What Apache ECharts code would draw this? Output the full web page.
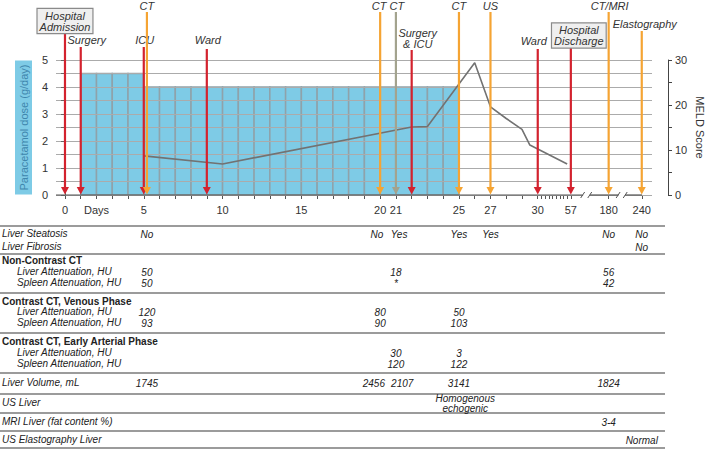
<!DOCTYPE html>
<html><head><meta charset="utf-8">
<script src="https://cdn.jsdelivr.net/npm/echarts@6/dist/echarts.min.js"></script>
<style>html,body{margin:0;padding:0;background:#fff}#c{width:709px;height:450px}</style>
</head><body><div id="c"></div>
<script>
// ---------------- DATA ----------------
// Paracetamol dose (g/day), one bar per day [day, day+1)
const doseDays   = [1,2,3,4,5,6,7,8,9,10,11,12,13,14,15,16,17,18,19,20,21,22,23,24];
const doseValues = [4.5,4.5,4.5,4.5,4,4,4,4,4,4,4,4,4,4,4,4,4,4,4,4,4,4,4,4];
// MELD score
const meldDays   = [5,10,22,23,26,27,28,29,29.5,54];
const meldValues = [8.7,6.9,15.1,15.2,29.4,19.6,17.0,14.6,11.1,6.9];
// Events (arrows)
const eventDays  = [0,1,5,5.2,9,20,21,22,25,27,30,57,180,240];
const eventNames = ['Hospital\nAdmission','Surgery','ICU','CT','Ward','CT','CT','Surgery\n& ICU','CT','US','Ward','Hospital\nDischarge','CT/MRI','Elastography'];
const eventKinds = ['red','red','red','orange','red','orange','gray','red','orange','orange','red','red','orange','orange'];
// x-axis labels
const xTickDays   = [0,2,5,10,15,20,21,25,27,30,57,180,240];
const xTickLabels = ['0','Days','5','10','15','20','21','25','27','30','57','180','240'];
// Table
const rowLabels = ['Liver Steatosis','Liver Fibrosis','Non-Contrast CT','Liver Attenuation, HU','Spleen Attenuation, HU',
  'Contrast CT, Venous Phase','Liver Attenuation, HU','Spleen Attenuation, HU',
  'Contrast CT, Early Arterial Phase','Liver Attenuation, HU','Spleen Attenuation, HU',
  'Liver Volume, mL','US Liver','MRI Liver (fat content %)','US Elastography Liver'];
const steatosis = [[5.2,'No'],[19.8,'No'],[21.2,'Yes'],[25,'Yes'],[27,'Yes'],[180,'No'],[240,'No']];
const fibrosis  = [[240,'No']];
const ncLiver   = [[5.2,'50'],[21,'18'],[180,'56']];
const ncSpleen  = [[5.2,'50'],[21,'*'],[180,'42']];
const venLiver  = [[5.2,'120'],[20,'80'],[25,'50']];
const venSpleen = [[5.2,'93'],[20,'90'],[25,'103']];
const artLiver  = [[21,'30'],[25,'3']];
const artSpleen = [[21,'120'],[25,'122']];
const volume    = [[5.2,'1745'],[19.6,'2456'],[21.4,'2107'],[25,'3141'],[180,'1824']];
const usLiver   = [[25.4,'Homogenous\nechogenic']];
const mriFat    = [[180,'3-4']];
const elasto    = [[240,'Normal']];
const rowValues = [steatosis,fibrosis,[],ncLiver,ncSpleen,[],venLiver,venSpleen,[],artLiver,artSpleen,volume,usLiver,mriFat,elasto];

// ---------------- LAYOUT / STYLE ----------------
// broken time axis: days -> axis position
function pos(d){
  if (d <= 30) return d;
  if (d <= 57) return 30 + (d-30)*2.1/27;
  if (d <= 180) return 32.1 + (d-57)*2.4/123;
  return 34.5 + (d-180)*2.1/60;
}
const FONT = '"Liberation Sans", Arial, Helvetica, sans-serif';
const colors = {red:'#d3222e', orange:'#f5a433', gray:'#a3a38e'};
const eventLayout = [
  {top:34, ly:21, dx:0, box:true},
  {top:47, ly:40, dx:6},
  {top:47, ly:40, dx:1},
  {top:12, ly:6, dx:0},
  {top:49, ly:40, dx:1},
  {top:12, ly:6, dx:-1},
  {top:12, ly:6, dx:1},
  {top:50, ly:38.5, dx:6},
  {top:12, ly:6, dx:0},
  {top:12, ly:6, dx:0},
  {top:49, ly:41, dx:-4},
  {top:48, ly:35.5, dx:8, box:true},
  {top:12, ly:6, dx:1},
  {top:31, ly:24, dx:3}
];
const rowY    = [234,247,261,272,283,302,312,323,342,353,364,383,403,422,440];
const rowKind = ['i','i','b','s','s','b','s','s','b','s','s','i','i','i','i'];
const sepY    = [226,254,293,333,373,394,413,431,448];
const axisSegs = [[-0.57,32.85],[33.3,35.1],[35.55,36.62]];
const hatchDays = [33,36,39,42,45,48,51,54];

const tickPos = [];
for (let d = 0; d <= 30; d++) tickPos.push(d);
hatchDays.forEach(d => tickPos.push(pos(d)));
[57,180,240].forEach(d => tickPos.push(pos(d)));
const labelPos = xTickDays.map(pos);

// table cells flattened
const cellData = [], cellText = [], cellRow = [];
rowValues.forEach((arr, r) => arr.forEach(c => { cellData.push([pos(c[0]), 0]); cellText.push(c[1]); cellRow.push(r); }));

const graphics = [];
rowLabels.forEach((t, r) => {
  const k = rowKind[r];
  graphics.push({type:'text', left: k === 's' ? 17 : 2, top: rowY[r] - 5.5, silent:true,
    style:{text:t, fill:'#222', font:(k==='b' ? 'bold ' : 'italic ') + '10px ' + FONT}});
});
sepY.forEach(y => graphics.push({type:'line', silent:true, shape:{x1:0,y1:y,x2:665,y2:y}, style:{stroke:'#7a7a7a', lineWidth:1.5}}));

const chart = echarts.init(document.getElementById('c'), null, {renderer:'svg', width:709, height:450});
chart.setOption({
  animation:false,
  backgroundColor:'#fff',
  textStyle:{fontFamily:FONT},
  grid:{left:56, right:57, top:60, bottom:255, outerBoundsMode:'none', containLabel:false},
  graphic: graphics,
  xAxis:{
    type:'value', min:-0.57, max:37.25,
    axisLine:{show:false},
    axisTick:{show:true, length:4, customValues:tickPos, lineStyle:{color:'#555'}},
    axisLabel:{show:true, customValues:labelPos, margin:9, fontSize:11, color:'#333',
      formatter:(v)=>{ const i = labelPos.findIndex(p=>Math.abs(p-v)<1e-6); return i>=0 ? xTickLabels[i] : ''; }},
    splitLine:{show:false}
  },
  yAxis:[
    {type:'value', min:0, max:5, interval:0.5, z:5,
     name:'Paracetamol dose (g/day)', nameLocation:'middle', nameRotate:90, nameGap:24, nameMoveOverlap:false,
     nameTextStyle:{backgroundColor:'#7ecbe6', color:'#3f86ad', padding:[3,4,3,4], fontSize:11},
     axisLine:{show:true, lineStyle:{color:'#666'}},
     axisTick:{show:true, length:4, lineStyle:{color:'#666'}},
     axisLabel:{margin:8, fontSize:11, color:'#333', formatter:v => (Math.abs(v-Math.round(v))<1e-6 ? String(Math.round(v)) : '')},
     splitLine:{show:true, lineStyle:{color:'#ababab', width:1}}},
    {type:'value', min:0, max:30, interval:5, position:'right', offset:16,
     name:'MELD Score', nameLocation:'middle', nameRotate:-90, nameGap:26, nameMoveOverlap:false,
     nameTextStyle:{fontSize:11, color:'#333'},
     axisLine:{show:true, lineStyle:{color:'#444'}},
     axisTick:{show:true, length:4, lineStyle:{color:'#444'}},
     axisLabel:{margin:7, fontSize:11, color:'#333', formatter:v => (v%10===0 ? String(v) : '')},
     splitLine:{show:false}}
  ],
  series:[
    { // paracetamol bars
      type:'custom', name:'dose', xAxisIndex:0, yAxisIndex:0, z:2,
      data: doseDays.map((d,i)=>[d, doseValues[i]]),
      renderItem:(params, api)=>{
        const d = api.value(0), v = api.value(1);
        const p1 = api.coord([d, v]), p2 = api.coord([d+1, 0]);
        return {type:'rect', shape:{x:p1[0], y:p1[1], width:p2[0]-p1[0], height:p2[1]-p1[1]},
          style:{fill:'#7ecbe6', stroke:'#8fa2aa', lineWidth:1.5}};
      }
    },
    { // MELD line
      type:'line', name:'MELD', yAxisIndex:1, z:10, symbol:'none',
      data: meldDays.map((d,i)=>[pos(d), meldValues[i]]),
      lineStyle:{color:'#727272', width:1.6}
    },
    { // x axis line with breaks
      type:'custom', name:'axis', z:9, silent:true,
      data: axisSegs,
      renderItem:(params, api)=>{
        const a = api.coord([api.value(0), 0]), b = api.coord([api.value(1), 0]);
        const ch = [{type:'line', shape:{x1:a[0],y1:a[1],x2:b[0],y2:b[1]}, style:{stroke:'#555', lineWidth:1.2}}];
        if (params.dataIndex < axisSegs.length - 1) {
          const n = api.coord([axisSegs[params.dataIndex+1][0], 0]);
          ch.push({type:'rect', shape:{x:b[0]+0.5, y:b[1]-1.5, width:n[0]-b[0]-1, height:3}, style:{fill:'#fff'}});
          ch.push({type:'line', shape:{x1:b[0]-2,y1:b[1]+3,x2:b[0]+2,y2:b[1]-3}, style:{stroke:'#555', lineWidth:1}});
          ch.push({type:'line', shape:{x1:n[0]-2,y1:n[1]+3,x2:n[0]+2,y2:n[1]-3}, style:{stroke:'#555', lineWidth:1}});
        }
        return {type:'group', children:ch};
      }
    },
    { // event arrows
      type:'custom', name:'events', z:11, silent:true,
      data: eventDays.map(d=>[pos(d), 0]),
      renderItem:(params, api)=>{
        const i = params.dataIndex;
        const p = api.coord([api.value(0), 0]);
        const x = p[0], yb = p[1];
        const L = eventLayout[i];
        const col = colors[eventKinds[i]];
        const st = {text:eventNames[i], x:x+(L.dx||0), y:L.ly, align:'center', verticalAlign:'middle',
          fill:'#333', font:'italic 11px ' + FONT, lineHeight:11};
        if (L.box) { st.backgroundColor='#efefef'; st.borderColor='#8a8a8a'; st.borderWidth=1.2; st.padding=[1,2,1,2]; }
        return {type:'group', children:[
          {type:'line', shape:{x1:x,y1:L.top,x2:x,y2:yb-6}, style:{stroke:col, lineWidth:2.2}},
          {type:'polygon', shape:{points:[[x-4,yb-8],[x+4,yb-8],[x,yb-0.5]]}, style:{fill:col}},
          {type:'text', style:st}
        ]};
      }
    },
    { // table cells
      type:'custom', name:'table', z:11, silent:true,
      data: cellData,
      renderItem:(params, api)=>{
        const i = params.dataIndex;
        const p = api.coord([api.value(0), 0]);
        return {type:'text', style:{text:cellText[i], x:p[0], y:rowY[cellRow[i]], align:'center', verticalAlign:'middle',
          fill:'#222', font:'italic 10px ' + FONT, lineHeight:10}};
      }
    }
  ]
});
</script></body></html>
